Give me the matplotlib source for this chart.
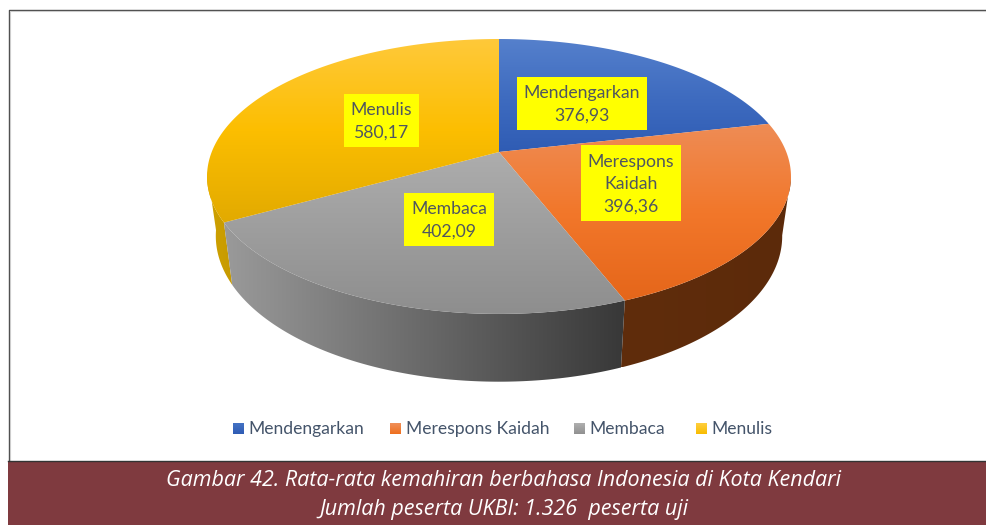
import numpy as np
import matplotlib
matplotlib.use("Agg")
import matplotlib.pyplot as plt
from matplotlib.colors import LinearSegmentedColormap
from matplotlib.patches import Polygon, Rectangle

categories = ["Mendengarkan", "Merespons Kaidah", "Membaca", "Menulis"]
values = [376.93, 396.36, 402.09, 580.17]
value_labels = ["376,93", "396,36", "402,09", "580,17"]
label_names = ["Mendengarkan", "Merespons\nKaidah", "Membaca", "Menulis"]
caption = ["Gambar 42. Rata-rata kemahiran berbahasa Indonesia di Kota Kendari",
           "Jumlah peserta UKBI: 1.326  peserta uji"]

top_colors = [["#5580cc", "#3f6cc0", "#2f5cb4"], ["#ee8c55", "#f2772a", "#e5661a"],
              ["#adadad", "#9d9d9d", "#8e8e8e"], ["#ffc93a", "#fcbe00", "#e2aa00"]]
side_colors = [["#2a4a86", "#2a4a86"], ["#602d0c", "#5c2a0a"],
               ["#9a9a9a", "#383838"], ["#d0a200", "#c69a00"]]
legend_colors = [["#4472c4", "#2f5cb4"], ["#f0905a", "#ee6f1e"],
                 ["#b0b0b0", "#909090"], ["#ffcf40", "#f8bc00"]]
boxes = [(517, 77, 130, 53), (581, 145, 100, 76), (404, 193, 90, 53), (344, 94, 75, 53)]
legend_x = [233, 390, 574, 696]
legend_tx = [248.5, 406, 589, 711]

W, H = 987, 525
fig = plt.figure(figsize=(W / 100, H / 100), dpi=100)
ax = fig.add_axes([0, 0, 1, 1])
ax.axis("off")

APEX_X, APEX_Y = 499, 152
AX, BY, K = 287.3, 133.1, 0.178
ELL_CY = 176.0
SX, SY, BOT_CY = 0.97, 1.06, 235.5


def top_pts(theta):
    t = np.radians(theta)
    X, Y = np.sin(t), np.cos(t)
    w = 1 + K * Y
    return APEX_X + AX * X / w, APEX_Y - BY * Y / w


def bot_pts(theta):
    x, y = top_pts(theta)
    return APEX_X + SX * (x - APEX_X), BOT_CY + SY * (y - ELL_CY)


def gradient(poly_xy, colors, horizontal=False):
    cmap = LinearSegmentedColormap.from_list("g", colors)
    xs, ys = poly_xy[:, 0], poly_xy[:, 1]
    ramp = np.linspace(0, 1, 256)
    data = ramp[None, :] if horizontal else ramp[:, None]
    extent = (xs.min(), xs.max(), ys.max(), ys.min())
    im = ax.imshow(data, cmap=cmap, extent=extent, aspect="auto",
                   interpolation="bilinear", zorder=2, origin="upper")
    poly = Polygon(poly_xy, closed=True, transform=ax.transData,
                   fc="none", ec="none")
    ax.add_patch(poly)
    im.set_clip_path(poly)


edges = np.concatenate([[0], np.cumsum(values)]) / np.sum(values) * 360
SIDE_A, SIDE_B = 100.0, 262.0

# sides, painted from the back to the front
for i in [3, 0, 1, 2]:
    a, b = max(edges[i], SIDE_A), min(edges[i + 1], SIDE_B)
    if b <= a:
        continue
    th = np.linspace(a, b, 120)
    tx, ty = top_pts(th)
    bx, by = bot_pts(th)
    pts = np.column_stack([np.r_[tx, bx[::-1]], np.r_[ty, by[::-1]]])
    gradient(pts, side_colors[i], horizontal=True)

# top faces
for i in range(4):
    th = np.linspace(edges[i], edges[i + 1], 200)
    tx, ty = top_pts(th)
    pts = np.column_stack([np.r_[APEX_X, tx], np.r_[APEX_Y, ty]])
    gradient(pts, top_colors[i])

# data labels
LABEL_FONT = ["Lato", "DejaVu Sans"]
for (x, y, w, h), name, val in zip(boxes, label_names, value_labels):
    ax.add_patch(Rectangle((x, y), w, h, fc="#ffff00", ec="none", zorder=3))
    ax.text(x + w / 2, y + h / 2 + 1, f"{name}\n{val}", ha="center", va="center",
            fontsize=12.7, color="#4f5660", family=LABEL_FONT,
            linespacing=1.5, zorder=4)

# legend
for i, name in enumerate(categories):
    x0 = legend_x[i]
    sq = np.array([[x0, 423], [x0 + 11, 423], [x0 + 11, 434], [x0, 434]], float)
    gradient(sq, legend_colors[i])
    ax.text(legend_tx[i], 429, name, ha="left", va="center", fontsize=12.6,
            color="#44546a", family=LABEL_FONT, zorder=4)

# frame and caption band
ax.plot([8.5, 8.5, W], [460, 9.5, 9.5], color="#4a4a4a", lw=1.0, zorder=5)
ax.plot([9.8, 9.8, W], [460, 10.8, 10.8], color="#cccccc", lw=0.8, zorder=5)
ax.add_patch(Rectangle((8, 461), W - 8, H - 461, fc="#7f3a3f", ec="none", zorder=5))
ax.plot([8, W], [460.5, 460.5], color="#333333", lw=1.0, zorder=6)
for yy, line in zip([481, 510], caption):
    ax.text(503.5, yy, line, ha="center", va="center", fontsize=15.45, style="italic",
            color="#ffffff", family=["Open Sans", "DejaVu Sans"], zorder=7)

ax.set_xlim(0, W)
ax.set_ylim(H, 0)
fig.savefig("out.png", dpi=100, facecolor="white")
